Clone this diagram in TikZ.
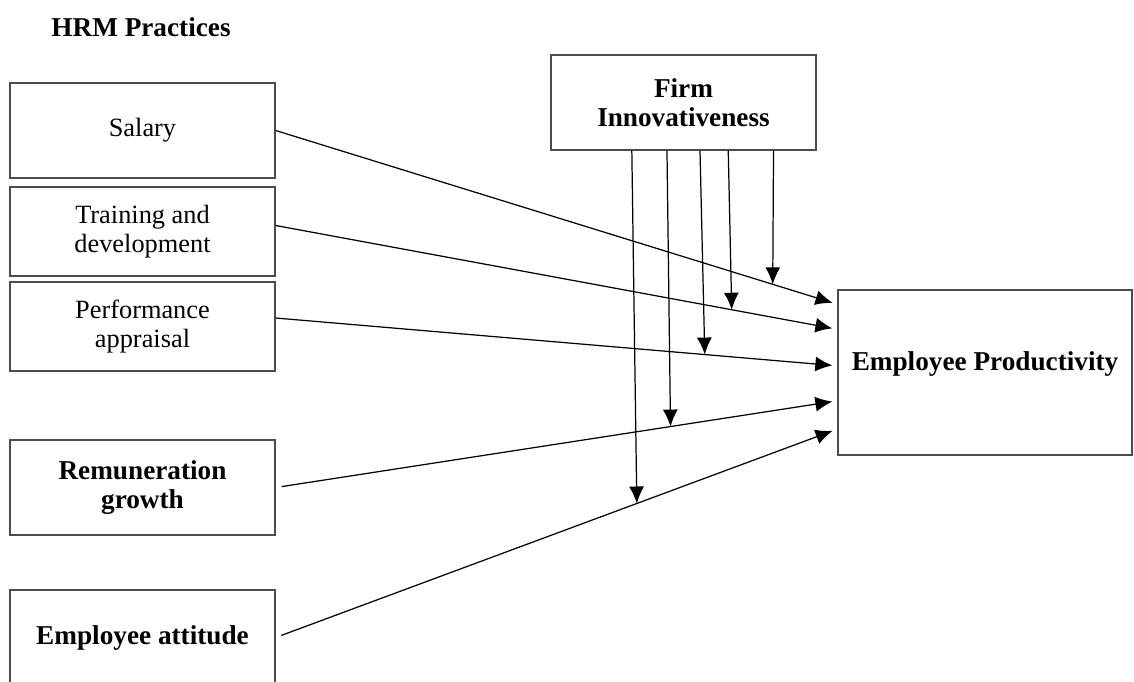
\documentclass[tikz,border=0pt]{standalone}
\usepackage{fontspec}
\setmainfont{Liberation Serif}
\usetikzlibrary{arrows.meta,calc}

\begin{document}
\begin{tikzpicture}[x = 0.02cm, y = -0.02cm,
  box/.style = {draw = black!70, line width = 0.8pt, minimum width = 5.3cm,
    minimum height = 1.9cm, align = center, inner sep = 0pt,
    font = \fontsize{15}{16.5}\selectfont},
  boldbox/.style = {box, font = \fontsize{15.5}{16.5}\selectfont\bfseries},
  link/.style = {line width = 0.7pt, -{Latex[length = 0.34cm, width = 0.3cm]}}]
\clip (0,0) rectangle (1134,681);

\node [font = \fontsize{15.5}{16.5}\selectfont\bfseries] (hrm) at (141,27) {HRM Practices};

\node [box] (salary) at (142.5,130.5) {Salary};
\node [box, minimum height = 1.78cm] (training) at (142.5,231.5) {Training and\\development};
\node [box, minimum height = 1.78cm] (perform) at (142.5,326.5) {Performance\\appraisal};
\node [boldbox] (remun) at (142.5,487.5) {Remuneration\\growth};
\node [boldbox] (attitude) at (142.5,637.5) {Employee attitude};

\node [boldbox] (firm) at (683.5,102.5) {Firm\\Innovativeness};
\node [boldbox, minimum width = 5.88cm, minimum height = 3.3cm,
  text height = 0.37cm, text depth = 0.45cm] (ep) at (985,372.5) {Employee Productivity};

% inputs of the outcome box
\coordinate (in1) at ($(ep.north west)!0.09!(ep.south west)$);
\coordinate (in2) at ($(ep.north west)!0.24!(ep.south west)$);
\coordinate (in3) at ($(ep.north west)!0.46!(ep.south west)$);
\coordinate (in4) at ($(ep.north west)!0.67!(ep.south west)$);
\coordinate (in5) at ($(ep.north west)!0.84!(ep.south west)$);

\coordinate (out2) at ([yshift = 0.12cm]training.east);
\coordinate (out3) at ([yshift = 0.17cm]perform.east);

\draw [link, shorten > = 0.1cm] (salary.east) -- (in1);
\draw [link, shorten > = 0.1cm] (out2) -- (in2);
\draw [link, shorten > = 0.1cm] (out3) -- (in3);
\draw [link, shorten > = 0.1cm, shorten < = 0.12cm] (remun.east) -- (in4);
\draw [link, shorten > = 0.1cm, shorten < = 0.12cm] (attitude.east) -- (in5);

% moderating arrows
\coordinate (f1) at ($(firm.south west)!0.838!(firm.south east)$);
\coordinate (f2) at ($(firm.south west)!0.668!(firm.south east)$);
\coordinate (f3) at ($(firm.south west)!0.562!(firm.south east)$);
\coordinate (f4) at ($(firm.south west)!0.438!(firm.south east)$);
\coordinate (f5) at ($(firm.south west)!0.306!(firm.south east)$);

\coordinate (on1) at ($(salary.east)!0.885!(in1)$);
\coordinate (on2) at ($(out2)!0.812!(in2)$);
\coordinate (on3) at ($(out3)!0.764!(in3)$);
\coordinate (on4) at ($(remun.east)!0.703!(in4)$);
\coordinate (on5) at ($(attitude.east)!0.643!(in5)$);

\draw [link] (f1) -- (on1);
\draw [link] (f2) -- (on2);
\draw [link] (f3) -- (on3);
\draw [link] (f4) -- (on4);
\draw [link] (f5) -- (on5);
\end{tikzpicture}
\end{document}
